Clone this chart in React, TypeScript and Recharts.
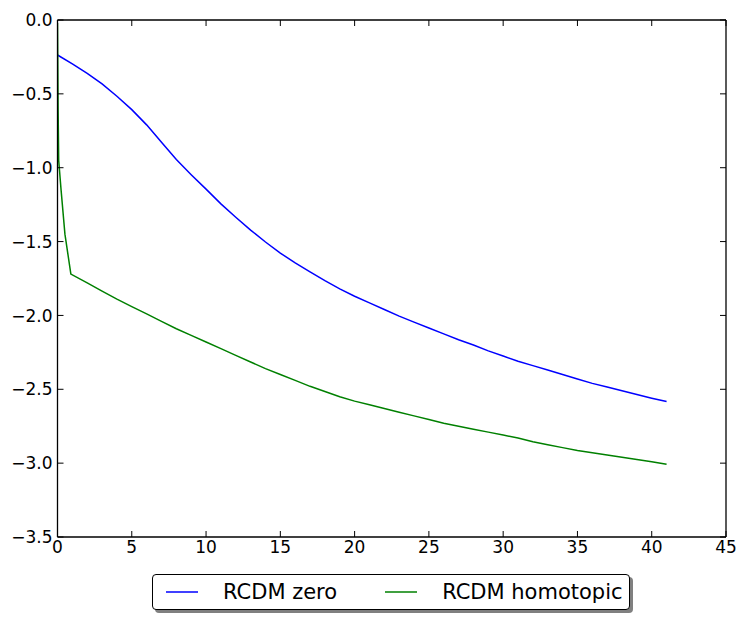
import React from 'react';
import { LineChart, Line, XAxis, YAxis, Legend } from 'recharts';

// x positions and values
const zeroX = [
  0, 1, 2, 3, 4, 5, 6, 7, 8, 9, 10, 11, 12, 13, 14, 15, 16, 17, 18, 19, 20,
  21, 22, 23, 24, 25, 26, 27, 28, 29, 30, 31, 32, 33, 34, 35, 36, 37, 38, 39, 40, 41,
];
const zeroY = [
  -0.237, -0.297, -0.361, -0.433, -0.516, -0.607, -0.71, -0.828, -0.945, -1.047, -1.145,
  -1.245, -1.335, -1.422, -1.503, -1.578, -1.645, -1.705, -1.765, -1.82, -1.87,
  -1.915, -1.96, -2.005, -2.045, -2.085, -2.125, -2.165, -2.2, -2.24, -2.275,
  -2.31, -2.34, -2.37, -2.4, -2.43, -2.46, -2.485, -2.51, -2.535, -2.56, -2.583,
];

const homotopicX = [
  0, 0.04, 0.08, 0.24, 0.5, 0.9, 2, 3, 4, 5, 6, 7, 8, 9, 10, 11, 12, 13, 14, 15, 16,
  17, 18, 19, 20, 21, 22, 23, 24, 25, 26, 27, 28, 29, 30, 31, 32, 33, 34, 35, 36,
  37, 38, 39, 40, 41,
];
const homotopicY = [
  -0.02, -0.6, -0.95, -1.15, -1.45, -1.72, -1.78, -1.835, -1.89, -1.94, -1.99,
  -2.04, -2.09, -2.135, -2.18, -2.225, -2.27, -2.315, -2.36, -2.4, -2.44, -2.48,
  -2.515, -2.55, -2.58, -2.605, -2.63, -2.655, -2.68, -2.705, -2.73, -2.75,
  -2.77, -2.79, -2.81, -2.83, -2.855, -2.875, -2.895, -2.915, -2.93, -2.945,
  -2.96, -2.975, -2.99, -3.008,
];

const seriesNames = ['RCDM zero', 'RCDM homotopic'];
const seriesColors = ['#0000ff', '#008000'];

const xTicks = [0, 5, 10, 15, 20, 25, 30, 35, 40, 45];
const yTicks = [0, -0.5, -1, -1.5, -2, -2.5, -3, -3.5];

const zeroData = zeroX.map((x, i) => ({ x, y: zeroY[i] }));
const homotopicData = homotopicX.map((x, i) => ({ x, y: homotopicY[i] }));

const FONT = 'DejaVu Sans, sans-serif';
const TICK_LEN = 6;
const axisLine = { stroke: '#000', strokeWidth: 1.3 };

const fmtX = (v: number) => String(v);
const fmtY = (v: number) => (v < 0 ? '\u2212' + Math.abs(v).toFixed(1) : v.toFixed(1));

// matplotlib-style inward ticks: the label sits a few px outside the axis line
const BottomTick = ({ x, y, payload }: any) => (
  <g>
    <line x1={x} y1={y - 2} x2={x} y2={y - 2 - TICK_LEN} stroke="#000" strokeWidth={1} />
    <text x={x} y={y} dy="0.85em" textAnchor="middle" fill="#000" fontSize={17} fontFamily={FONT}>
      {fmtX(payload.value)}
    </text>
  </g>
);

const LeftTick = ({ x, y, payload }: any) => (
  <g>
    <line x1={x + 5} y1={y} x2={x + 5 + TICK_LEN} y2={y} stroke="#000" strokeWidth={1} />
    <text x={x} y={y} dy="0.36em" textAnchor="end" fill="#000" fontSize={17} fontFamily={FONT}>
      {fmtY(payload.value)}
    </text>
  </g>
);

const TopTick = ({ x, y }: any) => (
  <line x1={x} y1={y} x2={x} y2={y + TICK_LEN} stroke="#000" strokeWidth={1} />
);

const RightTick = ({ x, y }: any) => (
  <line x1={x} y1={y} x2={x - TICK_LEN} y2={y} stroke="#000" strokeWidth={1} />
);

const LegendBox = () => (
  <div
    style={{
      width: 478,
      height: 36,
      boxSizing: 'border-box',
      border: '1.3px solid #000',
      borderRadius: 4,
      background: '#fff',
      boxShadow: '3px 3px 0 #808080',
      display: 'flex',
      alignItems: 'center',
      fontFamily: FONT,
      fontSize: 21,
      color: '#000',
    }}
  >
    {seriesNames.map((name, i) => (
      <div key={name} style={{ display: 'flex', alignItems: 'center', marginLeft: i === 0 ? 13 : 48 }}>
        <svg width={32} height={4} style={{ display: 'block' }}>
          <line x1={0} y1={2} x2={32} y2={2} stroke={seriesColors[i]} strokeWidth={1.5} />
        </svg>
        <span style={{ marginLeft: 25, whiteSpace: 'nowrap' }}>{name}</span>
      </div>
    ))}
  </div>
);

export default function App() {
  return (
    <div style={{ position: 'absolute', left: 0, top: 0, width: 747, height: 622, background: '#fff' }}>
      <LineChart width={747} height={622} margin={{ top: 19, right: 20, bottom: 55, left: 0 }}>
        <XAxis
          xAxisId={0}
          dataKey="x"
          type="number"
          domain={[0, 45]}
          ticks={xTicks}
          interval={0}
          allowDataOverflow
          height={30}
          tickSize={0}
          tickMargin={2}
          tick={<BottomTick />}
          axisLine={axisLine}
          tickLine={false}
        />
        <XAxis
          xAxisId="top"
          orientation="top"
          dataKey="x"
          type="number"
          domain={[0, 45]}
          ticks={xTicks}
          interval={0}
          allowDataOverflow
          height={1}
          tickSize={0}
          tickMargin={0}
          tick={<TopTick />}
          axisLine={axisLine}
          tickLine={false}
        />
        <YAxis
          yAxisId={0}
          type="number"
          domain={[-3.5, 0]}
          ticks={yTicks}
          interval={0}
          allowDataOverflow
          width={57.5}
          tickSize={0}
          tickMargin={5}
          tick={<LeftTick />}
          axisLine={axisLine}
          tickLine={false}
        />
        <YAxis
          yAxisId="right"
          orientation="right"
          type="number"
          domain={[-3.5, 0]}
          ticks={yTicks}
          interval={0}
          allowDataOverflow
          width={1}
          tickSize={0}
          tickMargin={0}
          tick={<RightTick />}
          axisLine={axisLine}
          tickLine={false}
        />
        <Line
          data={zeroData}
          dataKey="y"
          name={seriesNames[0]}
          type="linear"
          stroke={seriesColors[0]}
          strokeWidth={1.5}
          dot={false}
          activeDot={false}
          isAnimationActive={false}
        />
        <Line
          data={homotopicData}
          dataKey="y"
          name={seriesNames[1]}
          type="linear"
          stroke={seriesColors[1]}
          strokeWidth={1.5}
          dot={false}
          activeDot={false}
          isAnimationActive={false}
        />
        {/* invisible series so the top / right frame axes get drawn */}
        <Line
          xAxisId="top"
          yAxisId="right"
          data={zeroData}
          dataKey="y"
          stroke="none"
          dot={false}
          activeDot={false}
          legendType="none"
          isAnimationActive={false}
        />
        <Legend
          layout="horizontal"
          verticalAlign="middle"
          align="center"
          content={<LegendBox />}
          wrapperStyle={{ left: 152, top: 574, width: 478, height: 36 }}
        />
      </LineChart>
    </div>
  );
}
